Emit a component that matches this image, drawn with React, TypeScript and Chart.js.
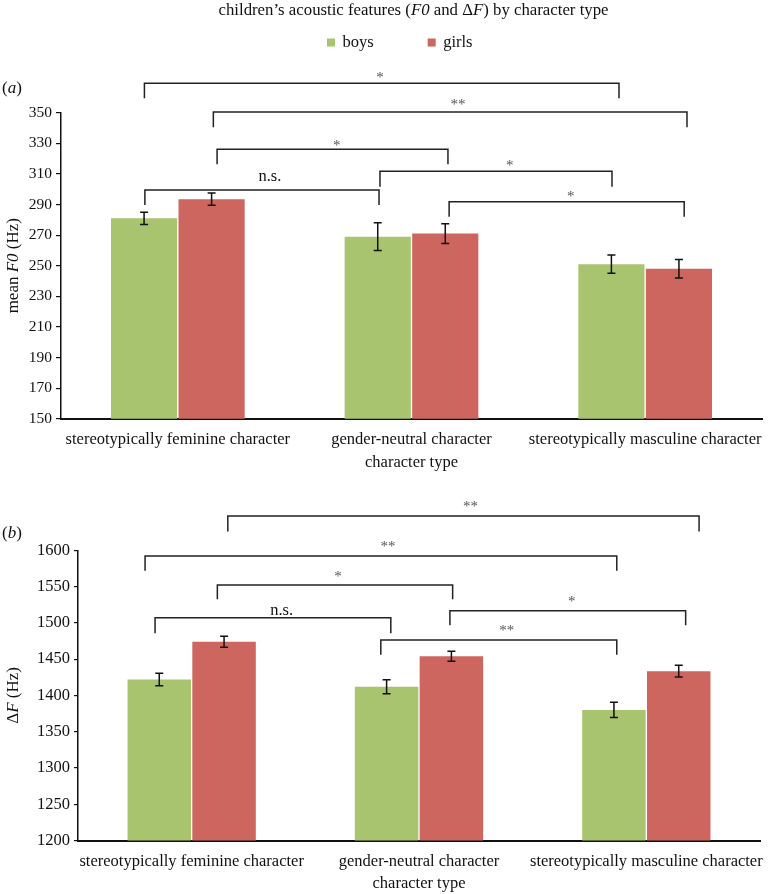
import React, { useEffect, useRef } from 'react';
import { Chart, registerables } from 'chart.js';

Chart.register(...registerables);

const FONT = '"Liberation Serif", "Times New Roman", serif';

// ---------- data ----------
const categories = [
  'stereotypically feminine character',
  'gender-neutral character',
  'stereotypically masculine character',
];
const seriesLabels = ['boys', 'girls'];
const seriesColors = ['#A9C46E', '#CD665F'];

// panel (a): mean F0 (Hz)
const f0Boys = [281, 269, 251];
const f0BoysErr = [4, 9, 6];
const f0Girls = [293.5, 271, 248];
const f0GirlsErr = [4, 6.5, 6];
const f0Min = 150;
const f0Max = 350;
const f0Step = 20;

// panel (b): ΔF (Hz)
const dfBoys = [1422, 1412, 1380];
const dfBoysErr = [8.5, 9.5, 10.5];
const dfGirls = [1474, 1454, 1433.5];
const dfGirlsErr = [7.5, 7, 8];
const dfMin = 1200;
const dfMax = 1600;
const dfStep = 50;

// significance brackets (x in category index units, y in data units)
type Bracket = { from: number; to: number; y: number; end: number; label: string; lx: number; ly: number };

const f0Brackets: Bracket[] = [
  { from: -0.143, to: 1.888, y: 369.3, end: 359.4, label: '*', lx: 0.865, ly: 374.6 },
  { from: 0.152, to: 2.179, y: 350.5, end: 340.5, label: '**', lx: 1.199, ly: 357.2 },
  { from: 0.168, to: 1.156, y: 326.1, end: 316.3, label: '*', lx: 0.68, ly: 330.4 },
  { from: -0.141, to: 0.861, y: 299.5, end: 289.7, label: 'n.s.', lx: 0.394, ly: 308 },
  { from: 0.865, to: 1.858, y: 311.7, end: 301.6, label: '*', lx: 1.421, ly: 317.1 },
  { from: 1.161, to: 2.167, y: 291.8, end: 282, label: '*', lx: 1.681, ly: 296.9 },
];

const dfBrackets: Bracket[] = [
  { from: 0.159, to: 2.232, y: 1647.2, end: 1625.9, label: '**', lx: 1.227, ly: 1663.6 },
  { from: -0.205, to: 1.87, y: 1592, end: 1571.9, label: '**', lx: 0.864, ly: 1608.1 },
  { from: 0.113, to: 1.148, y: 1552.1, end: 1532.4, label: '*', lx: 0.644, ly: 1567.2 },
  { from: -0.161, to: 0.876, y: 1507.2, end: 1485.7, label: 'n.s.', lx: 0.396, ly: 1516.7 },
  { from: 1.136, to: 2.173, y: 1516.8, end: 1496.7, label: '*', lx: 1.672, ly: 1533.2 },
  { from: 0.832, to: 1.87, y: 1476.4, end: 1456.1, label: '**', lx: 1.386, ly: 1492.4 },
];

const chartTitle = [
  { t: 'children’s acoustic features (' },
  { t: 'F0', i: true },
  { t: ' and Δ' },
  { t: 'F', i: true },
  { t: ') by character type' },
];
const f0AxisTitle = [{ t: 'mean ' }, { t: 'F0', i: true }, { t: ' (Hz)' }];
const dfAxisTitle = [{ t: 'Δ' }, { t: 'F', i: true }, { t: ' (Hz)' }];
const xAxisTitle = 'character type';

type Seg = { t: string; i?: boolean };

function drawSegs(ctx: CanvasRenderingContext2D, segs: Seg[], x: number, y: number, size: number, align: 'center' | 'left') {
  const widths = segs.map((s) => {
    ctx.font = `${s.i ? 'italic ' : ''}${size}px ${FONT}`;
    return ctx.measureText(s.t).width;
  });
  const total = widths.reduce((a, b) => a + b, 0);
  let cx = align === 'center' ? x - total / 2 : x;
  ctx.textAlign = 'left';
  segs.forEach((s, k) => {
    ctx.font = `${s.i ? 'italic ' : ''}${size}px ${FONT}`;
    ctx.fillText(s.t, cx, y);
    cx += widths[k];
  });
}

const overlayPlugin = {
  id: 'overlay',
  afterDraw(chart: any) {
    const o = chart.options.plugins.overlay;
    const ctx: CanvasRenderingContext2D = chart.ctx;
    const xs = chart.scales.x;
    const ys = chart.scales.y;
    const area = chart.chartArea;
    ctx.save();

    // error bars
    ctx.strokeStyle = '#111';
    ctx.lineWidth = 1.5;
    o.errors.forEach((errs: number[], di: number) => {
      const meta = chart.getDatasetMeta(di);
      const vals = chart.data.datasets[di].data as number[];
      meta.data.forEach((el: any, j: number) => {
        const px = el.x;
        const yt = ys.getPixelForValue(vals[j] + errs[j]);
        const yb = ys.getPixelForValue(vals[j] - errs[j]);
        ctx.beginPath();
        ctx.moveTo(px, yt);
        ctx.lineTo(px, yb);
        ctx.moveTo(px - 4, yt);
        ctx.lineTo(px + 4, yt);
        ctx.moveTo(px - 4, yb);
        ctx.lineTo(px + 4, yb);
        ctx.stroke();
      });
    });

    // brackets
    o.brackets.forEach((b: Bracket) => {
      const x1 = xs.getPixelForValue(b.from);
      const x2 = xs.getPixelForValue(b.to);
      const y = ys.getPixelForValue(b.y);
      const ye = ys.getPixelForValue(b.end);
      ctx.strokeStyle = '#222';
      ctx.lineWidth = 1.5;
      ctx.beginPath();
      ctx.moveTo(x1, ye);
      ctx.lineTo(x1, y);
      ctx.lineTo(x2, y);
      ctx.lineTo(x2, ye);
      ctx.stroke();
      const star = b.label.indexOf('*') >= 0;
      ctx.font = `${star ? 15 : 16.5}px ${FONT}`;
      ctx.fillStyle = star ? '#555' : '#111';
      ctx.textAlign = 'center';
      ctx.textBaseline = 'alphabetic';
      const m = ctx.measureText(b.label);
      const cy = ys.getPixelForValue(b.ly);
      const base = cy + (m.actualBoundingBoxAscent - m.actualBoundingBoxDescent) / 2;
      ctx.fillText(b.label, xs.getPixelForValue(b.lx), base);
    });

    // rotated y-axis title
    ctx.fillStyle = '#111';
    ctx.textBaseline = 'alphabetic';
    ctx.save();
    ctx.translate(o.yTitleX, (area.top + area.bottom) / 2);
    ctx.rotate(-Math.PI / 2);
    drawSegs(ctx, o.yTitle, 0, 0, 17, 'center');
    ctx.restore();

    // panel label
    drawSegs(ctx, [{ t: '(' }, { t: o.panel, i: true }, { t: ')' }], 2, o.panelY, 17, 'left');

    // header: title + legend
    if (o.header) {
      ctx.fillStyle = '#111';
      drawSegs(ctx, chartTitle, (area.left + area.right) / 2 + 2, 15, 16.8, 'center');
      let lx = 327;
      chart.data.datasets.forEach((ds: any) => {
        ctx.fillStyle = ds.backgroundColor;
        ctx.fillRect(lx, 38.5, 8, 8);
        ctx.fillStyle = '#111';
        ctx.font = `16.5px ${FONT}`;
        ctx.textAlign = 'left';
        ctx.fillText(ds.label, lx + 15.5, 47);
        lx += 15.5 + ctx.measureText(ds.label).width + 54;
      });
    }
    ctx.restore();
  },
};

type PanelOpts = {
  boys: number[];
  girls: number[];
  boysErr: number[];
  girlsErr: number[];
  min: number;
  max: number;
  step: number;
  brackets: Bracket[];
  catPct: number;
  padTop: number;
  padLeft: number;
  padRight: number;
  yWidth: number;
  xHeight: number;
  tickPad: number;
  titlePadBottom: number;
  yTickSize: number;
  yTickLen: number;
  yTitle: Seg[];
  yTitleX: number;
  panel: string;
  panelY: number;
  header: boolean;
};

function makeConfig(p: PanelOpts): any {
  return {
    type: 'bar',
    data: {
      labels: categories,
      datasets: [
        {
          label: seriesLabels[0],
          data: p.boys,
          backgroundColor: seriesColors[0],
          borderWidth: 0,
          barPercentage: 0.98,
          categoryPercentage: p.catPct,
        },
        {
          label: seriesLabels[1],
          data: p.girls,
          backgroundColor: seriesColors[1],
          borderWidth: 0,
          barPercentage: 0.98,
          categoryPercentage: p.catPct,
        },
      ],
    },
    options: {
      responsive: false,
      animation: false,
      layout: { padding: { top: p.padTop, left: p.padLeft, right: p.padRight, bottom: 0 } },
      plugins: {
        legend: { display: false },
        title: { display: false },
        tooltip: { enabled: false },
        overlay: {
          errors: [p.boysErr, p.girlsErr],
          brackets: p.brackets,
          yTitle: p.yTitle,
          yTitleX: p.yTitleX,
          panel: p.panel,
          panelY: p.panelY,
          header: p.header,
        },
      },
      scales: {
        x: {
          grid: { display: false },
          border: { display: true, color: '#111', width: 2 },
          ticks: {
            color: '#111',
            font: { family: FONT, size: 16.5 },
            maxRotation: 0,
            minRotation: 0,
            autoSkip: false,
            padding: p.tickPad,
          },
          title: {
            display: true,
            text: xAxisTitle,
            color: '#111',
            font: { family: FONT, size: 16.5 },
            padding: { top: 0, bottom: p.titlePadBottom },
          },
          afterFit: (s: any) => {
            s.height = p.xHeight;
          },
        },
        y: {
          min: p.min,
          max: p.max,
          grid: { display: true, drawOnChartArea: false, drawTicks: true, tickLength: p.yTickLen, color: '#111', lineWidth: 1.2 },
          border: { display: true, color: '#111', width: 1.5 },
          ticks: {
            stepSize: p.step,
            color: '#111',
            font: { family: FONT, size: p.yTickSize },
            padding: 4,
            callback: (v: number) => String(v),
          },
          afterFit: (s: any) => {
            s.width = p.yWidth;
          },
        },
      },
    },
    plugins: [overlayPlugin],
  };
}

const H_A = 476;
const H_B = 418;

export default function App() {
  const refA = useRef<HTMLCanvasElement>(null);
  const refB = useRef<HTMLCanvasElement>(null);

  useEffect(() => {
    Chart.defaults.font.family = FONT;
    Chart.defaults.color = '#111';
    const a = new Chart(
      refA.current as HTMLCanvasElement,
      makeConfig({
        boys: f0Boys,
        girls: f0Girls,
        boysErr: f0BoysErr,
        girlsErr: f0GirlsErr,
        min: f0Min,
        max: f0Max,
        step: f0Step,
        brackets: f0Brackets,
        catPct: 0.578,
        padTop: 112.7,
        padLeft: 24,
        padRight: 10,
        yWidth: 37,
        xHeight: H_A - 418.7,
        tickPad: 3.5,
        titlePadBottom: 3.4,
        yTickSize: 15.5,
        yTickLen: 5,
        yTitle: f0AxisTitle,
        yTitleX: 17.5,
        panel: 'a',
        panelY: 93,
        header: true,
      })
    );
    const b = new Chart(
      refB.current as HTMLCanvasElement,
      makeConfig({
        boys: dfBoys,
        girls: dfGirls,
        boysErr: dfBoysErr,
        girlsErr: dfGirlsErr,
        min: dfMin,
        max: dfMax,
        step: dfStep,
        brackets: dfBrackets,
        catPct: 0.57,
        padTop: 74.3,
        padLeft: 24,
        padRight: 12,
        yWidth: 54,
        xHeight: H_B - 364.6,
        tickPad: 2.8,
        titlePadBottom: 0,
        yTickSize: 16.5,
        yTickLen: 4,
        yTitle: dfAxisTitle,
        yTitleX: 17.5,
        panel: 'b',
        panelY: 62,
        header: false,
      })
    );
    return () => {
      a.destroy();
      b.destroy();
    };
  }, []);

  return (
    <div style={{ position: 'absolute', left: 0, top: 0, width: 772, height: 894, background: '#fff', overflow: 'hidden' }}>
      <canvas ref={refA} width={772} height={H_A} style={{ position: 'absolute', left: 0, top: 0, display: 'block' }} />
      <canvas ref={refB} width={772} height={H_B} style={{ position: 'absolute', left: 0, top: H_A, display: 'block' }} />
    </div>
  );
}
